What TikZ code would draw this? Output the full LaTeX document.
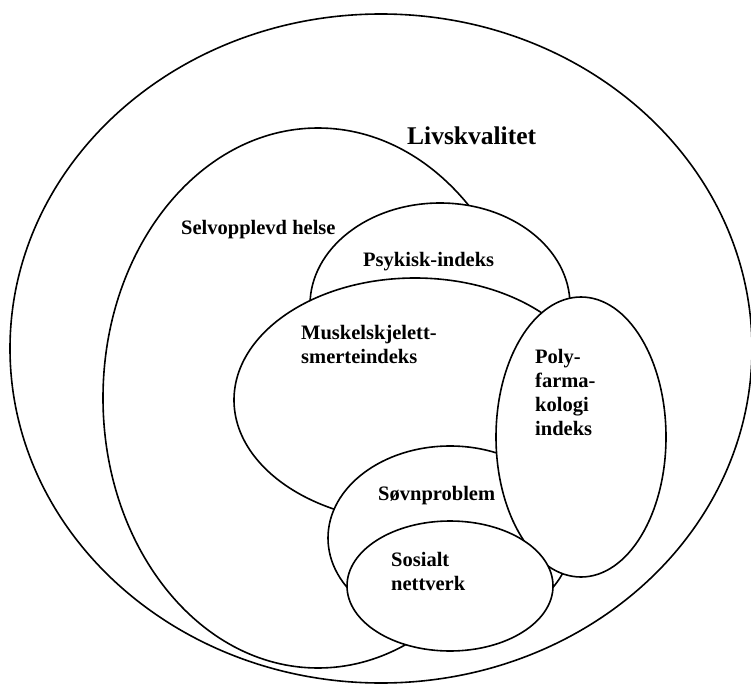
\documentclass[tikz,border=0pt]{standalone}
\usepackage{fontspec}
\setmainfont{Liberation Serif}
\usetikzlibrary{shapes.geometric}
\begin{document}
\begin{tikzpicture}[x=1pt,y=-1pt,
  ring/.style={draw=black, line width=1.6pt, fill=white, ellipse, inner sep=0pt},
  lbl/.style={font=\bfseries\fontsize{20.5}{23.8}\selectfont, inner sep=0pt, anchor=base west, align=left},
  ttl/.style={font=\bfseries\fontsize{25.5}{30}\selectfont, inner sep=0pt, anchor=base west}]
\useasboundingbox (0,0) rectangle (751,684);
% ellipses, bottom to top
\node[ring, minimum width=742pt, minimum height=669pt] (livs) at (381,348.5) {};
\node[ring, minimum width=430pt, minimum height=540pt] (selv) at (318,398) {};
\node[ring, minimum width=260pt, minimum height=204pt] (psyk) at (440,305) {};
\node[ring, minimum width=362pt, minimum height=244pt] (musk) at (415,400) {};
\node[ring, minimum width=244pt, minimum height=184pt] (sovn) at (450,538) {};
\node[ring, minimum width=170pt, minimum height=280pt] (poly) at (581,437) {};
\node[ring, minimum width=206pt, minimum height=130pt] (sos) at (450,586) {};
% labels (base anchor of a multi-line node is its last line's baseline)
\node[ttl] (tLivs) at (407,145) {Livskvalitet};
\node[lbl] (tSelv) at (181,235) {Selvopplevd helse};
\node[lbl] (tPsyk) at (363,266.7) {Psykisk-indeks};
\node[lbl] (tMusk) at (301,363.5) {Muskelskjelett-\\smerteindeks};
\node[lbl] (tPoly) at (535,435) {Poly-\\farma-\\kologi\\indeks};
\node[lbl] (tSovn) at (378,500) {Søvnproblem};
\node[lbl] (tSos) at (391,590.5) {Sosialt\\nettverk};
\end{tikzpicture}
\end{document}
